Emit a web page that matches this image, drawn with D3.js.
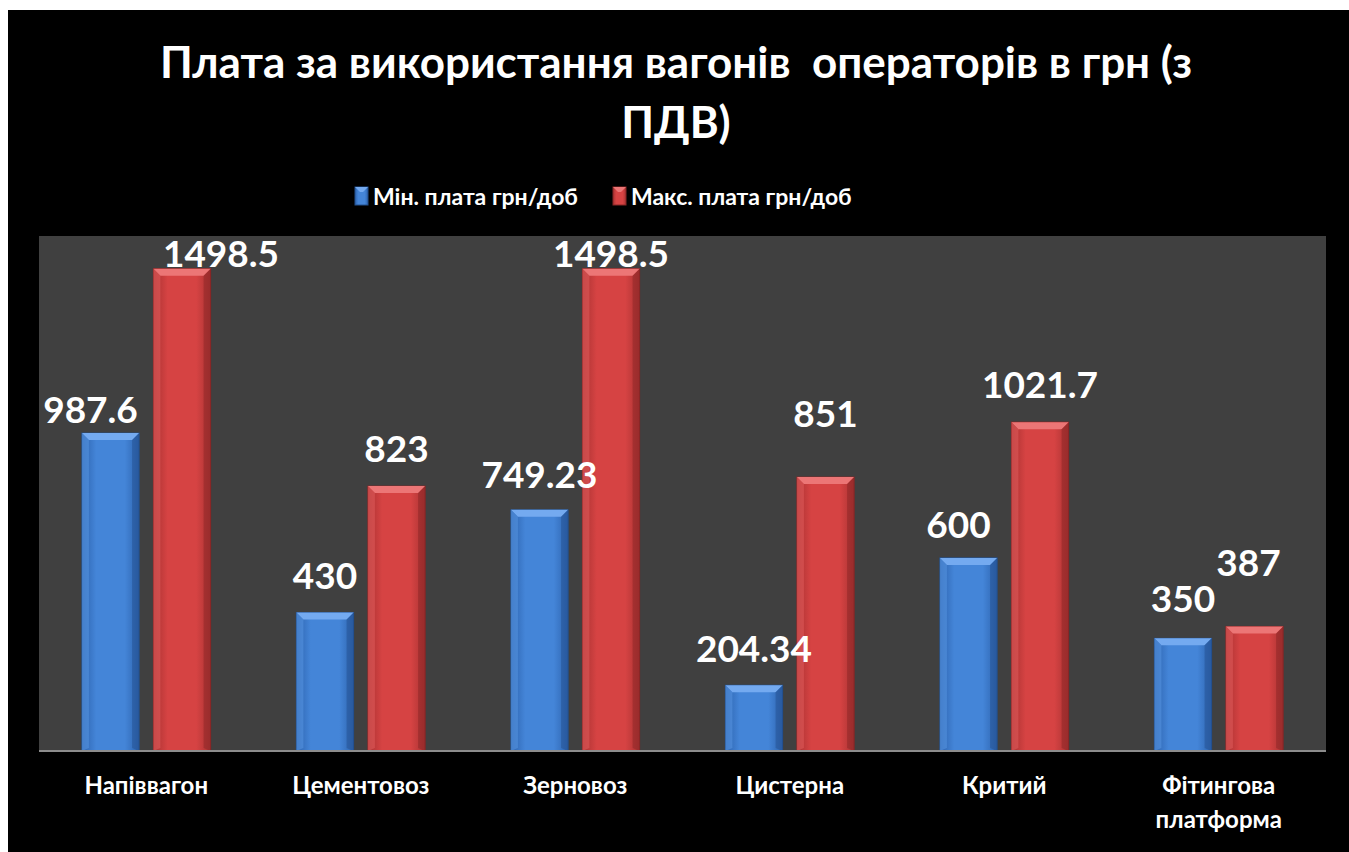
<!DOCTYPE html>
<html>
<head>
<meta charset="utf-8">
<script src="https://cdn.jsdelivr.net/npm/d3@7"></script>
<style>
  html, body { margin: 0; padding: 0; background: #fff; }
  svg { display: block; }
</style>
</head>
<body>
<svg id="chart" width="1349" height="852"></svg>
<script>
// data
var categories = ["Напіввагон", "Цементовоз", "Зерновоз", "Цистерна", "Критий", "Фітингова платформа"];
var minPay = [987.6, 430, 749.23, 204.34, 600, 350];
var maxPay = [1498.5, 823, 1498.5, 851, 1021.7, 387];
var seriesNames = ["Мін. плата грн/доб", "Макс. плата грн/доб"];
var titleLines = ["Плата за використання вагонів  операторів в грн (з", "ПДВ)"];

// labels were dragged by hand in the original, so keep the nudges [dx, dy]
var minLabelNudge = [[-20, -10], [0, -24], [0, -22], [0, -23], [-10, -20], [0, -26]];
var maxLabelNudge = [[39, -2], [0, -24], [0, -2], [0, -50], [0, -24], [-6, -50]];

var font = "Lato, 'Open Sans', sans-serif";

var svg = d3.select("#chart");
var plot = {left: 39, right: 1326, top: 236, bottom: 751};

// black chart frame
svg.append("rect")
    .attr("x", 8).attr("y", 10)
    .attr("width", 1349 - 8).attr("height", 852 - 10)
    .attr("fill", "#000");

// gradients for the bevelled bars
var defs = svg.append("defs");
var palette = [
    {id: "gBlue", edge: "#2d63ae", mid: "#4485d8", top: "#74aaf0", side: "#5592e0", dark: "#23508f"},
    {id: "gRed", edge: "#a93232", mid: "#d64343", top: "#ec7676", side: "#de5a5a", dark: "#8a2626"}
];
palette.forEach(function(p){
    var lg = defs.append("linearGradient").attr("id", p.id).attr("x1", 0).attr("x2", 1).attr("y1", 0).attr("y2", 0);
    lg.append("stop").attr("offset", "0%").attr("stop-color", p.edge);
    lg.append("stop").attr("offset", "25%").attr("stop-color", p.mid);
    lg.append("stop").attr("offset", "75%").attr("stop-color", p.mid);
    lg.append("stop").attr("offset", "100%").attr("stop-color", p.edge);
});

// plot area
svg.append("rect")
    .attr("x", plot.left).attr("y", plot.top)
    .attr("width", plot.right - plot.left).attr("height", plot.bottom - plot.top)
    .attr("fill", "#404040");

var x = d3.scaleBand()
    .domain(categories)
    .range([plot.left, plot.right]);

var xSub = d3.scaleBand()
    .domain([0, 1])
    .range([x.bandwidth() * 0.2, x.bandwidth() * 0.8])
    .paddingInner(0.2);

var y = d3.scaleLinear()
    .domain([0, 1600])
    .range([plot.bottom, plot.top]);

var series = [minPay, maxPay];
var nudges = [minLabelNudge, maxLabelNudge];
var bev = 7;

function rowsOf(values){
    return categories.map(function(c, i){ return {cat: c, v: values[i], i: i}; });
}

series.forEach(function(values, s){
    var p = palette[s];

    var bar = svg.append("g").selectAll("g.bar")
        .data(rowsOf(values))
        .enter().append("g")
        .attr("class", "bar");

    bar.append("rect")
        .attr("x", function(d){ return x(d.cat) + xSub(s); })
        .attr("y", function(d){ return y(d.v); })
        .attr("width", xSub.bandwidth())
        .attr("height", function(d){ return y(0) - y(d.v); })
        .attr("fill", "url(#" + p.id + ")")
        .attr("stroke", p.dark)
        .attr("stroke-width", 1);

    // top bevel
    bar.append("path")
        .attr("fill", p.top)
        .attr("d", function(d){
            var x0 = x(d.cat) + xSub(s), x1 = x0 + xSub.bandwidth(), y0 = y(d.v);
            return "M" + x0 + "," + y0 + "L" + x1 + "," + y0 + "L" + (x1 - bev) + "," + (y0 + bev) +
                   "L" + (x0 + bev) + "," + (y0 + bev) + "Z";
        });
    // left/right bevel
    bar.append("path")
        .attr("fill", p.side).attr("opacity", 0.6)
        .attr("d", function(d){
            var x0 = x(d.cat) + xSub(s), y0 = y(d.v), yb = y(0);
            return "M" + x0 + "," + y0 + "L" + (x0 + bev) + "," + (y0 + bev) + "L" + (x0 + bev) + "," + (yb - 3) +
                   "L" + x0 + "," + yb + "Z";
        });
    bar.append("path")
        .attr("fill", p.dark).attr("opacity", 0.5)
        .attr("d", function(d){
            var x1 = x(d.cat) + xSub(s) + xSub.bandwidth(), y0 = y(d.v), yb = y(0);
            return "M" + x1 + "," + y0 + "L" + (x1 - bev) + "," + (y0 + bev) + "L" + (x1 - bev) + "," + (yb - 3) +
                   "L" + x1 + "," + yb + "Z";
        });
});

// value labels go on top of every bar
series.forEach(function(values, s){
    svg.append("g").selectAll("text.val")
        .data(rowsOf(values))
        .enter().append("text")
        .attr("class", "val")
        .attr("x", function(d){ return x(d.cat) + xSub(s) + xSub.bandwidth() / 2 + nudges[s][d.i][0]; })
        .attr("y", function(d){ return y(d.v) + nudges[s][d.i][1]; })
        .attr("text-anchor", "middle")
        .attr("fill", "#fff")
        .style("font-family", font)
        .style("font-weight", "bold")
        .style("font-size", "37px")
        .text(function(d){ return d.v; });
});

// axis line
svg.append("line")
    .attr("x1", plot.left).attr("x2", plot.right)
    .attr("y1", plot.bottom).attr("y2", plot.bottom)
    .attr("stroke", "#8c8c8c").attr("stroke-width", 2);

// category labels (wrap two-word names)
var xAxis = svg.append("g")
    .attr("transform", "translate(0," + plot.bottom + ")")
    .call(d3.axisBottom(x).tickSize(0).tickPadding(0));
xAxis.select(".domain").remove();
xAxis.selectAll(".tick text")
    .attr("fill", "#fff")
    .style("font-family", font)
    .style("font-weight", "bold")
    .style("font-size", "24px")
    .attr("y", 0).attr("dy", null)
    .each(function(d){
        var t = d3.select(this), words = d.split(" ");
        t.text(null);
        words.forEach(function(w, k){
            t.append("tspan").attr("x", 0).attr("y", 43 + k * 34).text(w);
        });
    });

// title
svg.selectAll("text.title")
    .data(titleLines)
    .enter().append("text")
    .attr("class", "title")
    .attr("x", 676)
    .attr("y", function(d, i){ return 78 + i * 60; })
    .attr("text-anchor", "middle")
    .attr("fill", "#fff")
    .style("white-space", "pre")
    .style("font-family", font)
    .style("font-weight", "bold")
    .style("font-size", "44px")
    .text(function(d){ return d; });

// legend
var legendX = [355, 613];
var legend = svg.selectAll("g.legend")
    .data(seriesNames)
    .enter().append("g")
    .attr("class", "legend")
    .attr("transform", function(d, i){ return "translate(" + legendX[i] + ",187)"; });
legend.append("rect")
    .attr("width", 13).attr("height", 18)
    .attr("fill", function(d, i){ return "url(#" + palette[i].id + ")"; })
    .attr("stroke", function(d, i){ return palette[i].dark; });
legend.append("path")
    .attr("fill", function(d, i){ return palette[i].top; })
    .attr("d", "M0,0L13,0L8,5L5,5Z");
legend.append("text")
    .attr("x", 18).attr("y", 18)
    .attr("fill", "#fff")
    .style("font-family", font)
    .style("font-weight", "bold")
    .style("font-size", "23px")
    .text(function(d){ return d; });
</script>
</body>
</html>
